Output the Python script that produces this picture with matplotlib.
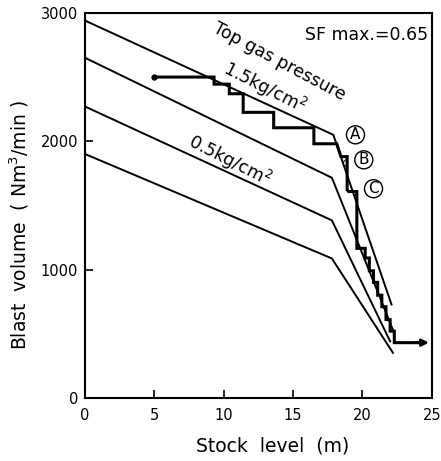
import numpy as np
import matplotlib.pyplot as plt

plt.rcParams['font.family'] = ['DejaVu Sans']

# operating lines for different top gas pressures (stock level m, blast volume Nm3/min)
line_a_x = [0, 17.9, 22.1]
line_a_y = [2940, 2050, 727]
line_b_x = [0, 17.8, 22.2]
line_b_y = [2650, 1715, 530]
line_c_x = [0, 17.8, 22.0]
line_c_y = [2270, 1383, 440]
line_d_x = [0, 17.8, 22.2]
line_d_y = [1900, 1086, 351]

# actual blast volume (stepwise)
stair_x = [5, 9.3, 9.3, 10.4, 10.4, 11.4, 11.4, 13.6, 13.6, 16.5, 16.5, 18.15, 18.45,
           18.9, 18.9, 19.0, 19.6, 19.6, 20.2, 20.2, 20.5, 20.5, 20.8, 20.8, 21.1, 21.1,
           21.4, 21.4, 21.7, 21.7, 22.0, 22.0, 22.3, 22.3, 24.3]
stair_y = [2500, 2500, 2445, 2445, 2370, 2370, 2225, 2225, 2105, 2105, 1980, 1980, 1880,
           1880, 1620, 1608, 1608, 1165, 1165, 1090, 1090, 990, 990, 900, 900, 800,
           800, 710, 710, 610, 610, 520, 520, 430, 430]

xticks = [0, 5, 10, 15, 20, 25]
yticks = [0, 1000, 2000, 3000]

fig = plt.figure(figsize=(4.41, 4.61), dpi=100)
ax = fig.add_axes([0.193, 0.137, 0.786, 0.835])

for xs, ys in [(line_a_x, line_a_y), (line_b_x, line_b_y),
               (line_c_x, line_c_y), (line_d_x, line_d_y)]:
    ax.plot(xs, ys, color='black', lw=1.4, solid_joinstyle='round')

ax.plot(stair_x, stair_y, color='black', lw=2.2, solid_joinstyle='miter')
ax.plot(stair_x[0], stair_y[0], 'o', color='black', ms=3.5)
ax.annotate('', xy=(25, stair_y[-1]), xytext=(23.6, stair_y[-1]),
            arrowprops=dict(arrowstyle='-|>', color='black', lw=2.0, mutation_scale=10))

# hatched parts where the actual blast exceeds line A
sx = np.array(stair_x)
sy = np.array(stair_y)
ref = np.interp(sx, line_a_x, line_a_y)
m = sx >= 18
plt.rcParams['hatch.linewidth'] = 0.8
ax.fill_between(sx[m], sy[m], ref[m], where=sy[m] > ref[m], interpolate=True,
                facecolor='none', edgecolor='black', hatch='//////', lw=0)

ax.text(24.75, 2830, 'SF max.=0.65', ha='right', va='center', fontsize=12.5)
ax.text(14.0, 2620, 'Top gas pressure', rotation=-28, ha='center', va='center',
        rotation_mode='anchor', fontsize=12.5)
ax.text(12.9, 2420, '1.5kg/cm$^2$', rotation=-27, ha='center', va='center',
        rotation_mode='anchor', fontsize=12.5)
ax.text(10.4, 1845, '0.5kg/cm$^2$', rotation=-27, ha='center', va='center',
        rotation_mode='anchor', fontsize=12.5)
for lab, x, y in [('A', 19.5, 2050), ('B', 20.1, 1855), ('C', 20.8, 1630)]:
    ax.text(x, y, lab, fontsize=11, ha='center', va='center',
            bbox=dict(boxstyle='circle,pad=0.1', facecolor='white', edgecolor='black', lw=1.0))

ax.set_xlim(0, 25)
ax.set_ylim(0, 3000)
ax.set_xticks(xticks)
ax.set_yticks(yticks)
ax.tick_params(direction='in', length=6, width=1.2, labelsize=10.5)
ax.tick_params(axis='y', pad=5)
ax.tick_params(axis='x', pad=7)
for s in ax.spines.values():
    s.set_linewidth(1.5)

ax.set_xlabel('Stock  level  (m)', fontsize=13.5)
ax.set_ylabel('Blast  volume  ( Nm$^3$/min )', fontsize=13.5)
ax.xaxis.set_label_coords(0.54, -0.1)
ax.yaxis.set_label_coords(-0.155, 0.45)

fig.savefig('out.png', dpi=100)
